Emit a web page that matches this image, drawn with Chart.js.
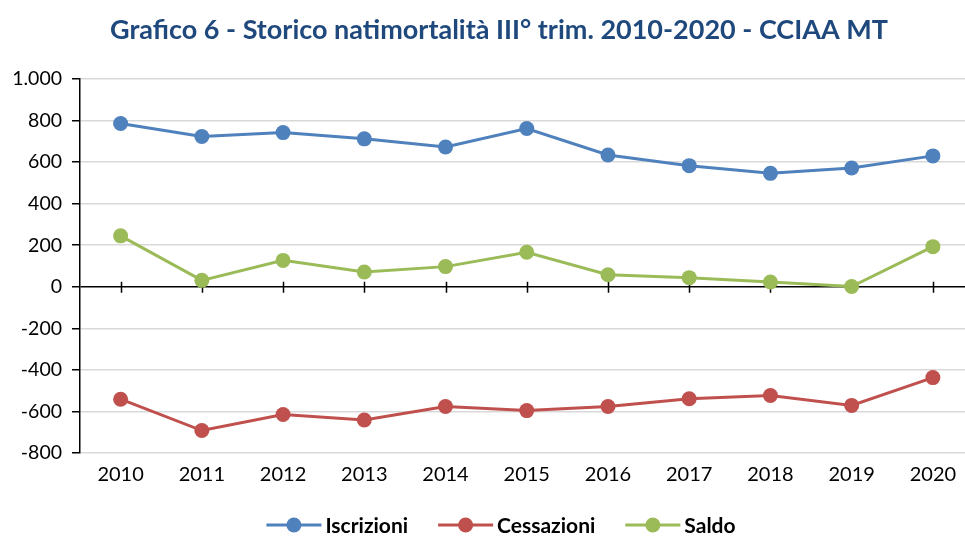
<!DOCTYPE html>
<html>
<head>
<meta charset="utf-8">
<script src="https://cdn.jsdelivr.net/npm/chart.js@4.4.1/dist/chart.umd.min.js"></script>
<style>
  html, body { margin: 0; padding: 0; background: #fff; overflow: hidden; }
  #wrap { width: 981px; height: 537px; }
</style>
</head>
<body>
<div id="wrap"><canvas id="c" width="981" height="537"></canvas></div>
<script>
const years = ['2010','2011','2012','2013','2014','2015','2016','2017','2018','2019','2020'];
const iscrizioni = [786, 723, 742, 712, 673, 762, 634, 583, 546, 572, 630];
const cessazioni = [-541, -692, -615, -641, -576, -596, -576, -539, -523, -571, -437];
const saldo = [245, 31, 127, 71, 97, 166, 58, 44, 23, 1, 193];
const seriesNames = ['Iscrizioni', 'Cessazioni', 'Saldo'];
const titleText = 'Grafico 6 - Storico natimortalità III° trim. 2010-2020 - CCIAA MT';

const colors = ['#4F81BD', '#C0504D', '#9BBB59'];
const FONT = 'Lato, "Open Sans", sans-serif';

const zeroTicks = {
  id: 'zeroTicks',
  beforeDatasetsDraw(chart) {
    const ctx = chart.ctx;
    const x = chart.scales.x, y = chart.scales.y;
    const y0 = y.getPixelForValue(0);
    ctx.save();
    ctx.strokeStyle = '#000';
    ctx.lineWidth = 1.5;
    ctx.beginPath();
    for (let i = 0; i < years.length; i++) {
      const px = Math.round(x.getPixelForValue(i)) + 0.5;
      ctx.moveTo(px, y0 - 5);
      ctx.lineTo(px, y0 + 6);
    }
    ctx.stroke();
    ctx.restore();
  }
};

const titleAndLegend = {
  id: 'titleAndLegend',
  afterDraw(chart) {
    const ctx = chart.ctx;
    ctx.save();
    // title
    ctx.font = 'bold 27px ' + FONT;
    ctx.fillStyle = '#1F497D';
    ctx.textAlign = 'center';
    ctx.textBaseline = 'middle';
    ctx.fillText(titleText, 499, 30);
    // legend
    ctx.font = 'bold 21px ' + FONT;
    const lineW = 55, gapText = 4, gapItem = 30;
    const ds = chart.data.datasets;
    const widths = ds.map(d => lineW + gapText + ctx.measureText(d.label).width);
    const total = widths.reduce((a, b) => a + b, 0) + gapItem * (ds.length - 1);
    let x = 501 - total / 2;
    const y = 525;
    ds.forEach((d, i) => {
      ctx.strokeStyle = d.borderColor;
      ctx.lineWidth = 3;
      ctx.beginPath();
      ctx.moveTo(x, y);
      ctx.lineTo(x + lineW, y);
      ctx.stroke();
      ctx.fillStyle = d.borderColor;
      ctx.beginPath();
      ctx.arc(x + lineW / 2, y, 7.5, 0, Math.PI * 2);
      ctx.fill();
      ctx.fillStyle = '#000';
      ctx.textAlign = 'left';
      ctx.fillText(d.label, x + lineW + gapText, y + 1);
      x += widths[i] + gapItem;
    });
    ctx.restore();
  }
};

const dataArrays = [iscrizioni, cessazioni, saldo];

new Chart(document.getElementById('c'), {
  type: 'line',
  data: {
    labels: years,
    datasets: dataArrays.map((arr, i) => ({
      label: seriesNames[i],
      data: arr,
      borderColor: colors[i],
      backgroundColor: colors[i],
      pointBackgroundColor: colors[i],
      pointBorderColor: colors[i],
      pointBorderWidth: 0,
      pointRadius: 7.5,
      borderWidth: 3,
      tension: 0,
      clip: false
    }))
  },
  options: {
    responsive: false,
    animation: false,
    devicePixelRatio: 1,
    layout: { padding: { left: 0, right: 2, top: 79, bottom: 48 } },
    plugins: {
      legend: { display: false },
      tooltip: { enabled: false },
      title: { display: false }
    },
    scales: {
      x: {
        offset: true,
        grid: { display: false },
        border: { display: false },
        ticks: {
          color: '#000',
          font: { family: FONT, size: 20 },
          padding: 2,
          maxRotation: 0
        }
      },
      y: {
        min: -800,
        max: 1000,
        afterFit(scale) { scale.width = 80; },
        border: { display: true, color: '#000', width: 1.5 },
        grid: {
          color: ctx => (ctx.tick && ctx.tick.value === 0) ? '#000' : '#D9D9D9',
          lineWidth: 1.5,
          tickColor: '#000',
          tickLength: 8
        },
        ticks: {
          stepSize: 200,
          color: '#000',
          font: { family: FONT, size: 19.5 },
          padding: 10,
          callback: v => v.toLocaleString('it-IT')
        }
      }
    }
  },
  plugins: [zeroTicks, titleAndLegend]
});
</script>
</body>
</html>
